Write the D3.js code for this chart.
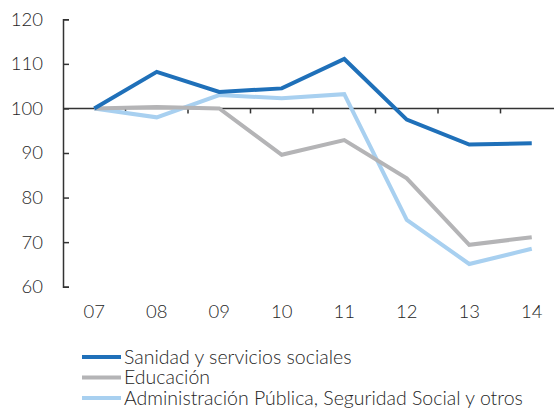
<!DOCTYPE html>
<html><head><meta charset="utf-8">
<script src="https://cdn.jsdelivr.net/npm/d3@7"></script>
<style>
body{margin:0;background:#fff;}
svg{display:block;}
text{font-family:Lato,"Open Sans",sans-serif;fill:#262626;font-weight:300;}
</style></head>
<body><svg id="c" width="554" height="408"></svg>
<script>
const years = ["07","08","09","10","11","12","13","14"];
const sanidad = [100,108.2,103.7,104.5,111.1,97.5,91.9,92.2];
const educacion = [100,100.3,100,89.6,92.9,84.3,69.4,71.1];
const administracion = [100,98.0,103.0,102.3,103.2,75.0,65.1,68.5];
const yTicks = [60,70,80,90,100,110,120];
const seriesNames = ["Sanidad y servicios sociales","Educación","Administración Pública, Seguridad Social y otros"];
const seriesColors = ["#1f70b9","#b4b4b6","#a8d0f0"];
const seriesData = [sanidad, educacion, administracion];

const svg = d3.select("#c");
const x = d3.scaleBand().domain(years).range([63,563]);
const y = d3.scaleLinear().domain([60,120]).range([286.7,19.3]);

// y axis
const ya = svg.append("g").attr("transform","translate(63,0)")
  .call(d3.axisLeft(y).tickValues(yTicks).tickSize(-6).tickPadding(20).tickFormat(d3.format("d")));
ya.selectAll("path,line").attr("stroke","#333").attr("stroke-width",1.5);
ya.selectAll("text").style("font-size","18.5px").style("font-family","Lato,sans-serif").style("font-weight","300").attr("fill","#262626");

// baseline at 100
const y100 = y(100);
svg.append("line").attr("x1",63).attr("x2",563).attr("y1",y100).attr("y2",y100)
  .attr("stroke","#333").attr("stroke-width",1.5);
years.slice(1).forEach(yr=>{
  const bx = x(yr);
  svg.append("line").attr("x1",bx).attr("x2",bx).attr("y1",y100).attr("y2",y100+5)
    .attr("stroke","#333").attr("stroke-width",1.5);
});

// x labels
const xa = svg.append("g").attr("transform","translate(0,300)")
  .call(d3.axisBottom(x).tickSize(0).tickPadding(0));
xa.select(".domain").remove();
xa.selectAll("text").attr("dy","0").attr("y",18).style("font-size","18.5px").style("font-family","Lato,sans-serif").style("font-weight","300").attr("fill","#262626");

// lines
const line = d3.line().x((d,i)=>x(years[i])+x.bandwidth()/2).y(d=>y(d));
[2,1,0].forEach(k=>{
  svg.append("path").datum(seriesData[k]).attr("d",line)
    .attr("fill","none").attr("stroke",seriesColors[k]).attr("stroke-width",4)
    .attr("stroke-linejoin","miter");
});

// legend
seriesNames.forEach((n,i)=>{
  const ly = 357 + i*20.5;
  svg.append("line").attr("x1",82).attr("x2",121).attr("y1",ly).attr("y2",ly)
    .attr("stroke",seriesColors[i]).attr("stroke-width",4);
  svg.append("text").attr("x",124).attr("y",ly).attr("dy","0.35em")
    .style("font-size","19.5px").style("letter-spacing","0px").text(n);
});
</script></body></html>
